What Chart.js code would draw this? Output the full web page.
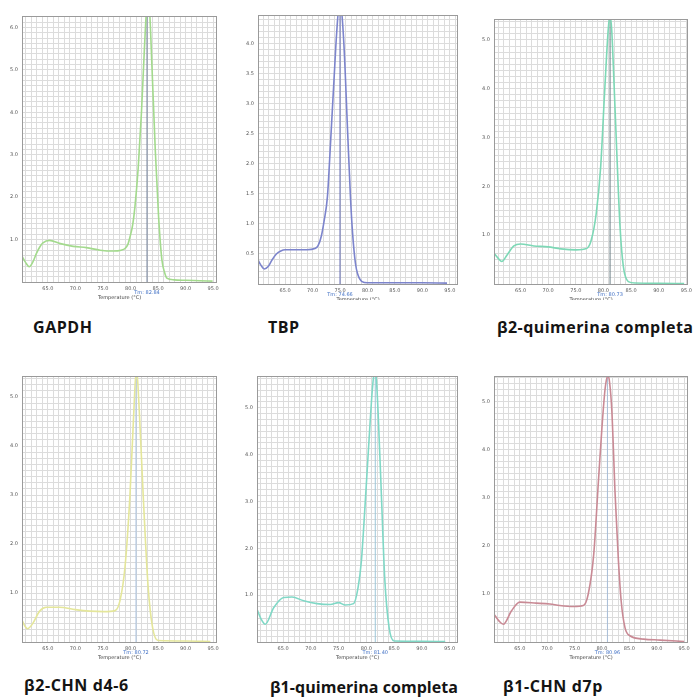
<!DOCTYPE html>
<html>
<head>
<meta charset="utf-8">
<script src="https://cdn.jsdelivr.net/npm/chart.js@4"></script>
<style>
  body { margin: 0; background: #fff; width: 696px; height: 698px; position: relative; overflow: hidden; }
  canvas { position: absolute; }
  .lbl { position: absolute; font-family: "Open Sans", Lato, sans-serif; font-weight: 700; font-size: 16px;
         line-height: 17px; color: #141414; white-space: nowrap; }
</style>
</head>
<body>
<script>
// melt peak curves: temperature (°C) and -d(RFU)/dT
const gapdhTemp = [60.2, 61.0, 61.6, 62.3, 62.9, 63.5, 64.1, 65.3, 67.1, 69.6, 72.0, 74.5, 76.9, 78.3, 79.0, 79.5, 79.9, 80.4, 80.8, 81.4, 82.0, 82.5, 82.9, 83.2, 83.5, 83.9, 84.5, 85.1, 85.7, 86.2, 86.6, 87.9, 90.0, 92.5, 94.9];
const gapdhVal  = [0.63, 0.45, 0.36, 0.48, 0.67, 0.82, 0.92, 0.98, 0.91, 0.84, 0.81, 0.75, 0.73, 0.75, 0.79, 0.88, 1.06, 1.35, 1.77, 2.70, 4.03, 5.44, 6.40, 6.60, 6.30, 5.05, 3.10, 1.53, 0.52, 0.22, 0.09, 0.05, 0.04, 0.03, 0.02];

const tbpTemp = [60.05, 60.6, 61.2, 61.9, 62.6, 63.4, 64.2, 65.0, 67.0, 69.0, 70.4, 71.0, 71.6, 72.1, 72.7, 73.3, 73.9, 74.4, 74.8, 75.2, 75.7, 76.4, 76.9, 77.3, 77.8, 78.2, 79.0, 80.0, 85.0, 90.0, 94.5];
const tbpVal  = [0.40, 0.31, 0.25, 0.29, 0.40, 0.50, 0.55, 0.57, 0.57, 0.57, 0.59, 0.64, 0.80, 1.05, 1.45, 2.40, 3.40, 4.20, 4.60, 4.58, 4.00, 2.50, 1.45, 0.83, 0.35, 0.17, 0.04, 0.02, 0.02, 0.02, 0.015];

const b2qTemp = [60.2, 61.0, 61.6, 62.6, 63.8, 65.0, 67.4, 70.0, 72.3, 75.0, 77.0, 77.8, 78.7, 79.5, 80.2, 80.9, 81.2, 81.5, 81.8, 82.4, 83.0, 83.6, 84.5, 85.8, 90.0, 94.6];
const b2qVal  = [0.63, 0.52, 0.46, 0.60, 0.78, 0.82, 0.78, 0.76, 0.72, 0.70, 0.73, 0.90, 1.45, 2.40, 3.90, 5.26, 5.50, 5.20, 4.44, 2.74, 1.18, 0.36, 0.05, 0.02, 0.015, 0.01];

const b2chnTemp = [60.2, 60.8, 61.3, 62.2, 63.5, 64.7, 67.1, 70.0, 72.6, 75.1, 77.2, 78.1, 79.0, 79.9, 80.6, 81.0, 81.2, 81.6, 82.3, 83.2, 84.0, 85.0, 90.0, 94.5];
const b2chnVal  = [0.47, 0.33, 0.27, 0.37, 0.63, 0.71, 0.71, 0.66, 0.63, 0.62, 0.64, 0.85, 1.53, 3.00, 4.70, 5.50, 5.45, 4.70, 3.00, 1.12, 0.30, 0.03, 0.02, 0.01];

const b1qTemp = [60.3, 61.0, 61.8, 63.3, 65.1, 66.6, 68.7, 71.1, 73.5, 75.0, 76.2, 77.7, 78.5, 79.1, 79.7, 80.5, 81.1, 81.5, 81.8, 82.1, 82.7, 83.3, 84.1, 85.0, 90.0, 94.2];
const b1qVal  = [0.70, 0.50, 0.38, 0.73, 0.95, 0.96, 0.88, 0.82, 0.80, 0.84, 0.79, 0.82, 1.16, 1.73, 2.80, 4.36, 5.43, 5.80, 5.60, 4.93, 3.15, 1.37, 0.30, 0.02, 0.015, 0.01];

const b1chnTemp = [60.3, 61.2, 62.0, 63.5, 65.0, 68.0, 70.5, 72.3, 74.8, 76.6, 77.5, 78.5, 79.4, 80.0, 80.6, 81.1, 81.4, 81.8, 82.4, 83.0, 83.5, 84.2, 85.1, 87.6, 90.6, 95.0];
const b1chnVal  = [0.58, 0.44, 0.37, 0.65, 0.83, 0.81, 0.79, 0.76, 0.74, 0.76, 1.00, 1.83, 3.43, 4.47, 5.30, 5.55, 5.40, 4.82, 3.08, 1.70, 0.86, 0.30, 0.13, 0.06, 0.04, 0.01];

const panelNames = ["GAPDH", "TBP", "β2-quimerina completa", "β2-CHN d4-6", "β1-quimerina completa", "β1-CHN d7p"];
const tmValues   = [83.0, 75.0, 81.2, 81.0, 81.6, 81.0];
const tmTexts    = ["Tm: 82.84", "Tm: 74.66", "Tm: 80.73", "Tm: 80.72", "Tm: 81.40", "Tm: 80.96"];
const yMaxes     = [6.27, 4.48, 5.43, 5.43, 5.68, 5.54];
const xRanges    = [[60.3, 95.7], [60.05, 96.5], [60.2, 95.3], [60.3, 95.7], [60.3, 96.5], [60.3, 95.7]];
const yLabelStep = [1, 0.5, 1, 1, 1, 1];
const yGridStep  = [0.125, 0.1, 0.125, 0.125, 0.125, 0.125];
const xTickLabels = [65, 70, 75, 80, 85, 90, 95];

// layout / style (not data)
const panels = [
  { temp: gapdhTemp, val: gapdhVal, color: "#a3da8d", tmColor: "#6f7f99", plot: { l: 22, t: 15, r: 217, b: 282 }, clip: 300, lbl: [33, 319, 59] },
  { temp: tbpTemp,   val: tbpVal,   color: "#7c84cc", tmColor: "#5f68b0", plot: { l: 258, t: 14, r: 458, b: 284 }, clip: 300, lbl: [268, 319, 31] },
  { temp: b2qTemp,   val: b2qVal,   color: "#7dd8b6", tmColor: "#6b7f86", plot: { l: 494, t: 18, r: 688, b: 284 }, clip: 300, lbl: [497, 319, 196] },
  { temp: b2chnTemp, val: b2chnVal, color: "#e4e69a", tmColor: "#a9c2df", plot: { l: 22, t: 375, r: 217, b: 642 }, clip: 666, lbl: [24, 677, 113] },
  { temp: b1qTemp,   val: b1qVal,   color: "#80d8c6", tmColor: "#9cc6d8", plot: { l: 257, t: 375, r: 458, b: 642 }, clip: 666, lbl: [270, 679, 188] },
  { temp: b1chnTemp, val: b1chnVal, color: "#c98a95", tmColor: "#a9bfd8", plot: { l: 494, t: 375, r: 688, b: 642 }, clip: 666, lbl: [503, 678, 117] },
];

const Y_W = 20, X_H = 19;
const near = (v, s) => Math.abs(v / s - Math.round(v / s)) < 1e-6;

// frame round the plot area + the small blue "Tm:" text under the Tm line
const framePlugin = {
  id: "frame",
  afterDraw(chart, args, opts) {
    const { ctx, chartArea: a, scales } = chart;
    ctx.save();
    ctx.strokeStyle = "#9a9a9a";
    ctx.lineWidth = 1;
    ctx.strokeRect(Math.round(a.left) + 0.5, Math.round(a.top) + 0.5,
                   Math.round(a.right - a.left) - 1, Math.round(a.bottom - a.top));
    ctx.fillStyle = "#3f6fc4";
    ctx.font = "5px 'DejaVu Sans', sans-serif";
    ctx.textAlign = "center";
    ctx.textBaseline = "middle";
    ctx.fillText(opts.text, scales.x.getPixelForValue(opts.tm), a.bottom + 11);
    ctx.restore();
  },
};

panels.forEach((p, i) => {
  const { l, t, r, b } = p.plot;
  const cx = l - Y_W - 2, cy = t - 6;
  const w = (r - l) + Y_W + 2 + 12;
  const h = p.clip - cy;
  const cv = document.createElement("canvas");
  cv.width = w; cv.height = h;
  cv.style.left = cx + "px"; cv.style.top = cy + "px";
  cv.style.width = w + "px"; cv.style.height = h + "px";
  document.body.appendChild(cv);

  const lbl = document.createElement("div");
  lbl.className = "lbl";
  lbl.textContent = panelNames[i];
  lbl.style.left = p.lbl[0] + "px";
  lbl.style.top = p.lbl[1] + "px";
  document.body.appendChild(lbl);
  // nudge the caption's tracking so it takes the width it has in the picture
  const n = panelNames[i].length - 1;
  const extra = Math.max(-0.6 * n, Math.min(0.6 * n, p.lbl[2] - lbl.getBoundingClientRect().width));
  lbl.style.letterSpacing = (extra / n).toFixed(2) + "px";

  const yMax = yMaxes[i];
  new Chart(cv.getContext("2d"), {
    type: "line",
    data: {
      datasets: [
        {
          data: p.temp.map((x, k) => ({ x, y: p.val[k] })),
          borderColor: p.color, borderWidth: 1.6, pointRadius: 0,
          cubicInterpolationMode: "monotone", fill: false,
        },
        {
          data: [{ x: tmValues[i], y: 0 }, { x: tmValues[i], y: yMax }],
          borderColor: p.tmColor, borderWidth: 1, pointRadius: 0,
        },
      ],
    },
    options: {
      responsive: false, animation: false, events: [],
      layout: { padding: { left: 2, top: 6, right: 12, bottom: h - 6 - (b - t) - X_H } },
      plugins: { legend: { display: false }, tooltip: { enabled: false },
                 frame: { tm: tmValues[i], text: tmTexts[i] } },
      scales: {
        x: {
          type: "linear", min: xRanges[i][0], max: xRanges[i][1],
          afterFit: (s) => { s.height = X_H; },
          grid: { color: "#dcdcdc", lineWidth: 1, drawTicks: false },
          border: { display: false },
          ticks: {
            stepSize: 1, autoSkip: false, maxRotation: 0, padding: 4, includeBounds: false,
            font: { size: 5, family: "DejaVu Sans" }, color: "#555",
            callback: (v) => (xTickLabels.includes(v) ? v.toFixed(1) : ""),
          },
          title: { display: true, text: "Temperature (°C)", font: { size: 5, family: "DejaVu Sans" },
                   color: "#444", padding: { top: 0, bottom: 0 } },
        },
        y: {
          min: 0, max: yMax,
          afterFit: (s) => { s.width = Y_W; },
          grid: { color: "#dcdcdc", lineWidth: 1, drawTicks: false },
          border: { display: false },
          ticks: {
            stepSize: yGridStep[i], autoSkip: false, padding: 4, includeBounds: false,
            font: { size: 5, family: "DejaVu Sans" }, color: "#555",
            callback: (v) => (v > 0 && near(v, yLabelStep[i]) ? v.toFixed(1) : ""),
          },
        },
      },
    },
    plugins: [framePlugin],
  });
});
</script>
</body>
</html>
